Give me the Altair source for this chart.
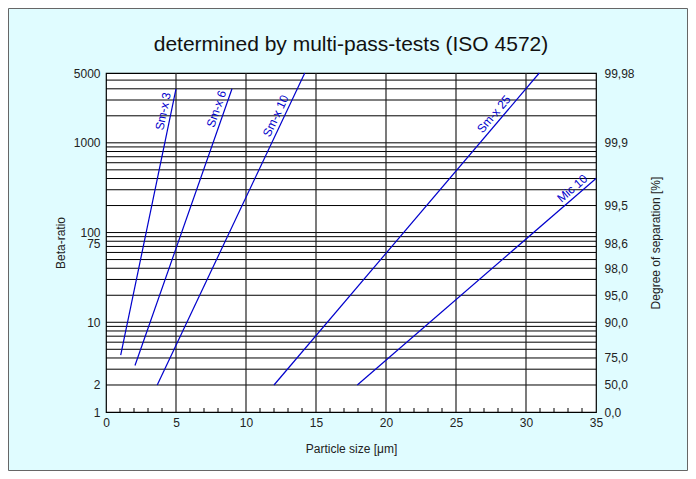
import math
import altair as alt
import pandas as pd

# ---------------- data ----------------
title_text = "determined by multi-pass-tests (ISO 4572)"

series_names = ["Sm-x 3", "Sm-x 6", "Sm-x 10", "Sm-x 25", "Mic 10"]
x_start = [1.05, 2.07, 3.66, 12.0, 17.95]
beta_start = [4.3, 3.3, 2, 2, 2]
x_end = [5.0, 9.0, 14.2, 30.95, 35.0]
beta_end = [4000, 4000, 6000, 6000, 400]

label_x = [4.64, 8.43, 12.64, 28.14, 33.68]
label_beta = [2150, 2230, 1830, 1830, 265]

grid_betas = [2, 3, 4, 5, 6, 7, 8, 9,
              10, 20, 30, 40, 50, 60, 70, 80, 90,
              100, 200, 300, 400, 500, 600, 700, 800, 900,
              1000, 2000, 3000, 4000, 5000]
x_grid = [5, 10, 15, 20, 25, 30]
x_minor = [1, 2, 3, 4, 6, 7, 8, 9, 11, 12, 13, 14, 16, 17, 18, 19,
           21, 22, 23, 24, 26, 27, 28, 29, 31, 32, 33, 34]
x_tick_values = [0, 5, 10, 15, 20, 25, 30, 35]

left_values = [1, 2, 10, 75, 100, 1000, 6000]
left_labels = ["1", "2", "10", "75", "100", "1000", "5000"]
right_values = [1, 2, 4, 10, 20, 40, 75, 200, 1000, 6000]
right_labels = ["0,0", "50,0", "75,0", "90,0", "95,0", "98,0", "98,6", "99,5", "99,9", "99,98"]

# ---------------- layout ----------------
W, H = 490, 339
X_MAX = 35
Y_MIN, Y_MAX = 1, 6000
FONT = "Liberation Sans"
BLUE = "#0000cc"
TXT = "#222222"


def label_expr(values, labels):
    expr = "''"
    for v, l in reversed(list(zip(values, labels))):
        expr = f"datum.value == {v} ? '{l}' : ({expr})"
    return expr


xscale = alt.Scale(domain=[0, X_MAX], nice=False, zero=False)
yscale = alt.Scale(type="log", domain=[Y_MIN, Y_MAX], nice=False)

# line table
rows = []
for n, x0, b0, x1, b1 in zip(series_names, x_start, beta_start, x_end, beta_end):
    rows.append({"series": n, "x": x0, "beta": b0})
    rows.append({"series": n, "x": x1, "beta": b1})
lines_df = pd.DataFrame(rows)

# label angles follow each line's slope on screen
angles = []
ydec = math.log10(Y_MAX) - math.log10(Y_MIN)
for x0, b0, x1, b1 in zip(x_start, beta_start, x_end, beta_end):
    dx = (x1 - x0) * W / X_MAX
    dy = (math.log10(b1) - math.log10(b0)) * H / ydec
    angles.append(360 - math.degrees(math.atan2(dy, dx)))
labels_df = pd.DataFrame({"series": series_names, "x": label_x, "beta": label_beta, "angle": angles})

common = dict(labelFont=FONT, titleFont=FONT, labelFontSize=12, titleFontSize=12,
              labelColor=TXT, titleColor=TXT, titleFontWeight="normal",
              grid=False, ticks=False, domain=False, labelFlush=False, labelOverlap=False)

x_axis = alt.Axis(values=x_tick_values, title="Particle size [μm]", labelPadding=5, titlePadding=15, **common)
left_axis = alt.Axis(orient="left", values=left_values, labelExpr=label_expr(left_values, left_labels),
                     title="Beta-ratio", labelPadding=6, titlePadding=6, **common)
right_axis = alt.Axis(orient="right", values=right_values, labelExpr=label_expr(right_values, right_labels),
                      title="Degree of separation [%]", titleAngle=270, labelPadding=8, titlePadding=28,
                      **common)

frame = alt.Chart(pd.DataFrame({"a": [0]})).mark_rect(fillOpacity=0, stroke="#666666", strokeWidth=1).encode(
    x=alt.value(-97.5), x2=alt.value(W + 91.5), y=alt.value(-64.5), y2=alt.value(H + 58.5))

title = alt.Chart(pd.DataFrame({"t": [title_text]})).mark_text(
    font=FONT, fontSize=21, color="#111111", align="center", baseline="alphabetic").encode(
    x=alt.value(W / 2), y=alt.value(-22), text="t:N")

hgrid = alt.Chart(pd.DataFrame({"beta": grid_betas})).mark_rule(color="black", strokeWidth=1).encode(
    y=alt.Y("beta:Q", scale=yscale, axis=right_axis))

vgrid = alt.Chart(pd.DataFrame({"x": x_grid})).mark_rule(color="#222222", strokeWidth=1.2).encode(
    x=alt.X("x:Q", scale=xscale, axis=None))

minor = alt.Chart(pd.DataFrame({"x": x_minor})).mark_rule(color="black", strokeWidth=1).encode(
    x=alt.X("x:Q", scale=xscale, axis=None), y=alt.value(H), y2=alt.value(H - 4))

lines = alt.Chart(lines_df).mark_line(color=BLUE, strokeWidth=1.2).encode(
    x=alt.X("x:Q", scale=xscale, axis=x_axis),
    y=alt.Y("beta:Q", scale=yscale, axis=left_axis),
    detail="series:N")

texts = alt.Chart(labels_df).mark_text(color=BLUE, font=FONT, fontSize=12, baseline="bottom",
                                       align="center", dy=-1).encode(
    x=alt.X("x:Q", scale=xscale, axis=None),
    y=alt.Y("beta:Q", scale=yscale, axis=None),
    text="series:N",
    angle=alt.Angle("angle:Q", scale=None))

chart = alt.layer(frame, title, hgrid, vgrid, minor, lines, texts).resolve_axis(
    x="independent", y="independent").properties(
    width=W, height=H,
    padding={"left": 98, "top": 65, "right": 92, "bottom": 59},
    autosize=alt.AutoSizeParams(type="none"),
    background="#e0fcff",
).configure_view(fill="white", stroke="black", strokeWidth=1.2)

chart.save("out.html", embed_options={"renderer": "svg", "actions": False})
